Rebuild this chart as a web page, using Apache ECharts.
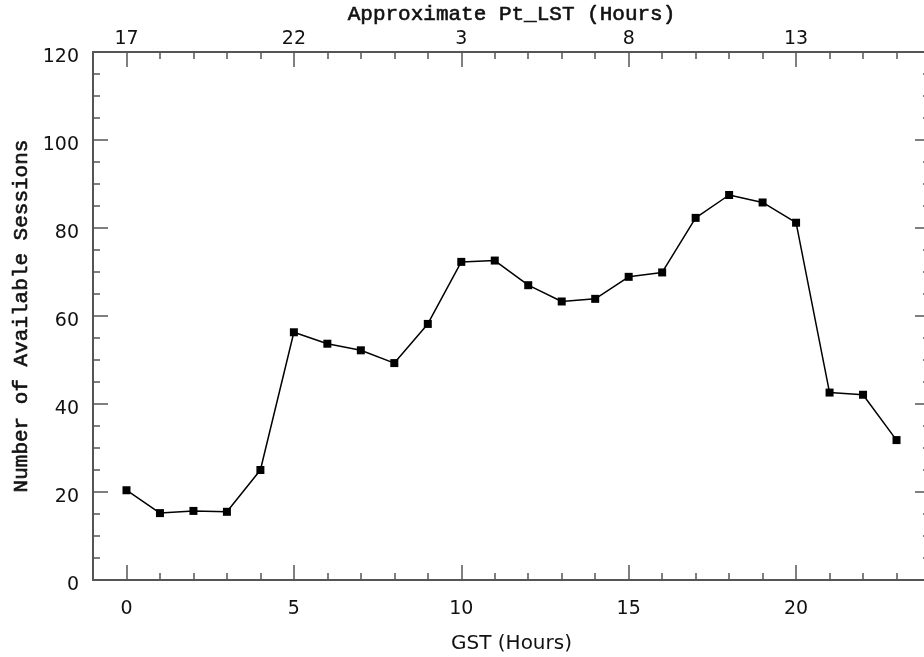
<!doctype html>
<html>
    <head>
        <meta charset="utf-8">
        <title>Available Sessions vs GST</title>
        <style>
            html, body { margin: 0; padding: 0; background: #fff; }
            #main { width: 924px; height: 657px; }
        </style>
    </head>
    <body>
        <div id="main"></div>
        <script src="https://cdn.jsdelivr.net/npm/echarts@6/dist/echarts.min.js"></script>
        <script>
            // GST hour of each point and the number of available sessions
            var gstHours = [0, 1, 2, 3, 4, 5, 6, 7, 8, 9, 10, 11, 12, 13, 14, 15, 16, 17, 18, 19, 20, 21, 22, 23];
            var sessions = [20.4, 15.2, 15.7, 15.5, 25.0, 56.3, 53.7, 52.2, 49.3, 58.2, 72.3, 72.6,
                            67.0, 63.3, 63.9, 68.9, 69.9, 82.3, 87.5, 85.8, 81.2, 42.6, 42.1, 31.8];
            // labelled tick positions, the top axis shows approximate Pt_LST = GST + 17
            var majorTicks = [0, 5, 10, 15, 20];
            var lstOffset = 17;

            var axisColor = '#555';
            var textColor = '#111';
            var sans = 'DejaVu Sans';
            var mono = 'Liberation Mono';
            // mono titles are a touch heavier than the regular face
            var monoName = {
                fontFamily: mono, fontSize: 21, color: textColor,
                textBorderColor: textColor, textBorderWidth: 0.6
            };

            var chart = echarts.init(document.getElementById('main'));

            function majorAxis(position, opts) {
                return Object.assign({
                    type: 'value',
                    position: position,
                    min: -1,
                    max: 24,
                    axisLine: { show: true, onZero: false, lineStyle: { color: axisColor, width: 2 } },
                    axisTick: {
                        show: true, inside: true, length: 15,
                        customValues: majorTicks,
                        lineStyle: { color: axisColor, width: 1.5 }
                    },
                    splitLine: { show: false }
                }, opts);
            }

            function minorAxis(position) {
                return {
                    type: 'value',
                    position: position,
                    min: -1,
                    max: 24,
                    interval: 1,
                    axisLine: { show: false, onZero: false },
                    axisTick: { show: true, inside: true, length: 7, lineStyle: { color: axisColor, width: 1.5 } },
                    axisLabel: { show: false },
                    splitLine: { show: false }
                };
            }

            function yAxis(position, showLabels, opts) {
                return Object.assign({
                    type: 'value',
                    position: position,
                    min: 0,
                    max: 120,
                    interval: 20,
                    axisLine: { show: true, onZero: false, lineStyle: { color: axisColor, width: 2 } },
                    axisTick: { show: true, inside: true, length: 15, lineStyle: { color: axisColor, width: 1.5 } },
                    minorTick: { show: true, splitNumber: 4, length: 7, lineStyle: { color: axisColor, width: 1.5 } },
                    axisLabel: {
                        show: showLabels,
                        margin: 14,
                        formatter: function (v) { return '{t|' + v + '}'; },
                        rich: {
                            t: { fontFamily: sans, fontSize: 19, color: textColor, padding: [11, 0, 0, 0] }
                        }
                    },
                    splitLine: { show: false },
                    minorSplitLine: { show: false }
                }, opts);
            }

            chart.setOption({
                animation: false,
                backgroundColor: '#fff',
                grid: { left: 93, top: 52, width: 837, height: 528, outerBoundsMode: 'none', containLabel: false },
                xAxis: [
                    majorAxis('bottom', {
                        name: 'GST (Hours)',
                        nameLocation: 'middle',
                        nameGap: 54,
                        nameTextStyle: { fontFamily: sans, fontSize: 20, color: textColor },
                        axisLabel: {
                            customValues: majorTicks,
                            fontFamily: sans, fontSize: 19, color: textColor, margin: 20
                        }
                    }),
                    minorAxis('bottom'),
                    majorAxis('top', {
                        name: 'Approximate Pt_LST (Hours)',
                        nameLocation: 'middle',
                        nameGap: 18,
                        nameTextStyle: monoName,
                        axisLabel: {
                            customValues: majorTicks,
                            fontFamily: sans, fontSize: 19, color: textColor, margin: 3,
                            formatter: function (v) { return String((v + lstOffset) % 24); }
                        }
                    }),
                    minorAxis('top')
                ],
                yAxis: [
                    yAxis('left', true, {
                        name: 'Number of Available Sessions',
                        nameLocation: 'middle',
                        nameGap: 60,
                        nameTextStyle: monoName
                    }),
                    yAxis('right', false)
                ],
                series: [{
                    type: 'line',
                    xAxisIndex: 0,
                    yAxisIndex: 0,
                    data: gstHours.map(function (h, i) { return [h, sessions[i]]; }),
                    symbol: 'rect',
                    symbolSize: 8,
                    showSymbol: true,
                    itemStyle: { color: '#000' },
                    lineStyle: { color: '#000', width: 1.5 },
                    silent: true
                }]
            });

            window.onresize = chart.resize;
        </script>
    </body>
</html>
